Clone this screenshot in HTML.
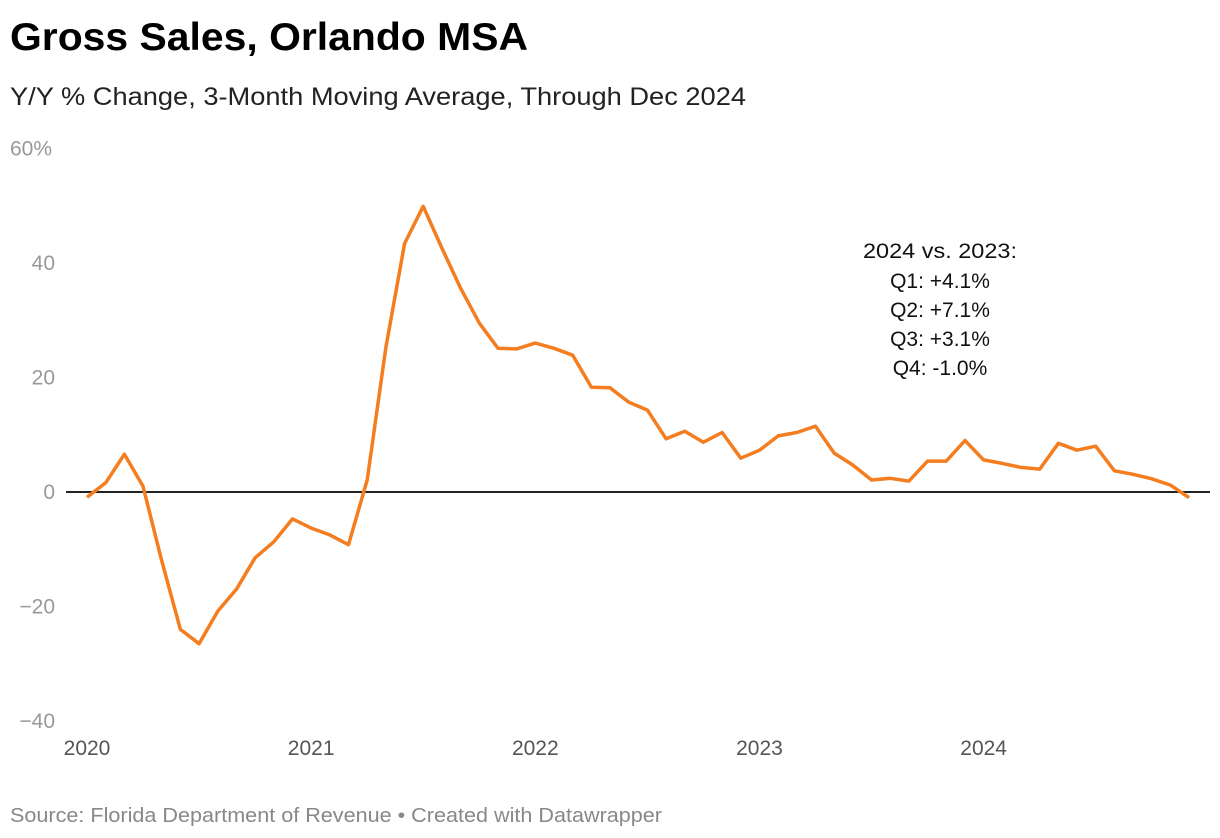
<!DOCTYPE html>
<html><head><meta charset="utf-8"><style>
body{margin:0;background:#fff;width:1220px;height:838px;overflow:hidden;font-family:"Liberation Sans",sans-serif}
</style></head><body>
<svg width="1220" height="838" style="position:absolute;left:0;top:0">
<text x="10" y="50" font-size="39" font-weight="bold" fill="#000" textLength="518" lengthAdjust="spacingAndGlyphs">Gross Sales, Orlando MSA</text>
<text x="10" y="105" font-size="25" fill="#222" textLength="736" lengthAdjust="spacingAndGlyphs">Y/Y % Change, 3-Month Moving Average, Through Dec 2024</text>
<g id="yaxis"></g>
<g id="xaxis"></g>
<line x1="66" x2="1210" y1="492" y2="492" stroke="#222" stroke-width="2"/>
<path id="line" fill="none" stroke="#f47d20" stroke-width="3.5" stroke-linejoin="round"/>
<g font-size="21" fill="#111" text-anchor="middle">
<text x="940" y="258" textLength="154" lengthAdjust="spacingAndGlyphs">2024 vs. 2023:</text>
<text x="940" y="288">Q1: +4.1%</text>
<text x="940" y="317">Q2: +7.1%</text>
<text x="940" y="346">Q3: +3.1%</text>
<text x="940" y="375">Q4: -1.0%</text>
</g>
<text x="10" y="822" font-size="20" fill="#888" textLength="652" lengthAdjust="spacingAndGlyphs">Source: Florida Department of Revenue • Created with Datawrapper</text>
</svg>
<script>
const values=[-0.9,1.6,6.6,1.0,-12,-24,-26.5,-20.8,-17,-11.5,-8.7,-4.7,
-6.3,-7.5,-9.2,2.1,25.3,43.4,49.9,42.6,35.6,29.5,25.1,25.0,
26.0,25.1,23.9,18.3,18.2,15.7,14.3,9.3,10.6,8.7,10.4,5.9,
7.3,9.8,10.4,11.5,6.8,4.7,2.1,2.4,1.9,5.4,5.4,9.0,
5.6,5.0,4.3,4.0,8.5,7.3,8.0,3.7,3.1,2.3,1.2,-1.0];
const yTicks=[60,40,20,0,-20,-40];
const yLabels=["60%","40","20","0","−20","−40"];
const xYears=[2020,2021,2022,2023,2024];
const ns="http://www.w3.org/2000/svg";
function y(v){return 492-v*5.725;}
function x(i){return 87+i*18.68;}
const ya=document.getElementById('yaxis');
yTicks.forEach((t,i)=>{const e=document.createElementNS(ns,'text');


e.setAttribute('x',t===60?10:55);e.setAttribute('text-anchor',t===60?'start':'end');
e.setAttribute('y',y(t)+7);e.setAttribute('font-size','21');e.setAttribute('fill','#999');
e.textContent=yLabels[i];ya.appendChild(e);});
const xa=document.getElementById('xaxis');
xYears.forEach((yr,i)=>{const e=document.createElementNS(ns,'text');


e.setAttribute('x',x(i*12));e.setAttribute('y',755);e.setAttribute('text-anchor','middle');
e.setAttribute('font-size','21');e.setAttribute('fill','#555');e.textContent=yr;xa.appendChild(e);});
document.getElementById('line').setAttribute('d',values.map((v,i)=>(i?'L':'M')+x(i).toFixed(1)+' '+y(v).toFixed(1)).join(' '));
</script>
</body></html>
